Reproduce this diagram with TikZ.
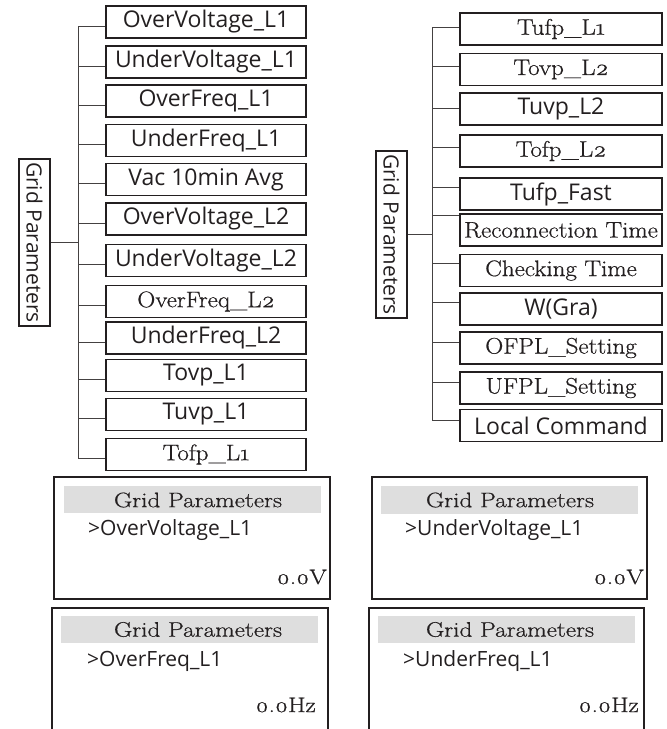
\documentclass[tikz,border=0pt]{standalone}
\usepackage{fontspec}
\newfontfamily\osans{Open Sans}
\newfontfamily\wserif[FakeStretch=1.11,FakeBold=0.7]{Latin Modern Roman}
\newfontfamily\tserif[FakeStretch=1.2,FakeBold=0.6]{Latin Modern Roman}
\usetikzlibrary{calc}
\definecolor{ink}{HTML}{231F20}
\definecolor{barg}{HTML}{DEDEDE}
\tikzset{
  itembox/.style={draw=ink, line width=1.6pt, minimum width=200pt, minimum height=32pt, inner sep=0pt, text=ink},
  ritembox/.style={itembox, minimum width=202pt},
  sanst/.style={font=\osans\fontsize{23}{25}\selectfont},
  serift/.style={font=\wserif\fontsize{22.5}{24}\selectfont},
  conn/.style={draw=ink!85, line width=0.9pt},
  lblbox/.style={draw=ink, line width=1.3pt, rotate=-90, minimum width=167pt, minimum height=31pt, inner xsep=1pt, inner ysep=0pt, text=ink, font=\osans\fontsize{21}{23}\selectfont},
  screen/.style={draw=ink, line width=1.6pt, inner sep=0pt},
  bar/.style={fill=barg, inner sep=0pt},
  sttl/.style={text=ink, font=\tserif\fontsize{21}{23}\selectfont, inner sep=0pt},
  sitem/.style={text=ink, anchor=west, inner sep=0pt, font=\osans\fontsize{21}{23}\selectfont},
  sval/.style={text=ink, anchor=east, inner sep=0pt, font=\tserif\fontsize{21}{23}\selectfont}
}
\begin{document}
\begin{tikzpicture}[x=1pt,y=-1pt]
\useasboundingbox (0,0) rectangle (667,729);
% ---------- left tree ----------
\node[itembox, sanst]  (l1)  at (206,22)    {OverVoltage\_L1};
\node[itembox, sanst]  (l2)  at (206,62)    {UnderVoltage\_L1};
\node[itembox, sanst]  (l3)  at (206,101)   {OverFreq\_L1};
\node[itembox, sanst]  (l4)  at (206,140.5) {UnderFreq\_L1};
\node[itembox, sanst]  (l5)  at (206,179.5) {Vac 10min Avg};
\node[itembox, sanst]  (l6)  at (206,219)   {OverVoltage\_L2};
\node[itembox, sanst]  (l7)  at (206,260.5) {UnderVoltage\_L2};
\node[itembox, serift] (l8)  at (206,301.5) {OverFreq\_L\oldstylenums{2}};
\node[itembox, sanst]  (l9)  at (206,338)   {UnderFreq\_L2};
\node[itembox, sanst]  (l10) at (206,375.5) {Tovp\_L1};
\node[itembox, sanst]  (l11) at (206,414.5) {Tuvp\_L1};
\node[itembox, serift] (l12) at (206,454.5) {Tofp\_L\oldstylenums{1}};
\node[lblbox] (lg) at (34.5,242.5) {Grid Parameters};
\coordinate (ltop) at ($(l1.west)+(-27,4)$);
\coordinate (lbot) at ($(l12.west)+(-27,4)$);
\draw[conn] (ltop) -- (lbot);
\foreach \i in {1,...,12} \draw[conn] ($(l\i.west)+(0,4)$) -- ++(-27,0);
\draw[conn] (lg.north) -- (lg.north -| ltop);
% ---------- right tree ----------
\node[ritembox, serift] (r1)  at (561,29)    {Tufp\_L\oldstylenums{1}};
\node[ritembox, serift] (r2)  at (561,69.5)  {Tovp\_L\oldstylenums{2}};
\node[ritembox, sanst]  (r3)  at (561,109)   {Tuvp\_L2};
\node[ritembox, serift] (r4)  at (561,151)   {Tofp\_L\oldstylenums{2}};
\node[ritembox, sanst]  (r5)  at (561,194)   {Tufp\_Fast};
\node[ritembox, serift] (r6)  at (561,230)   {Reconnection Time};
\node[ritembox, serift] (r7)  at (561,270.5) {Checking Time};
\node[ritembox, sanst]  (r8)  at (561,309)   {W(Gra)};
\node[ritembox, serift] (r9)  at (561,348)   {OFPL\_Setting};
\node[ritembox, serift] (r10) at (561,388)   {UFPL\_Setting};
\node[ritembox, sanst]  (r11) at (561,425.5) {Local Command};
\node[lblbox] (rg) at (391.5,234.5) {Grid Parameters};
\coordinate (rtop) at ($(r1.west)+(-27,-2)$);
\coordinate (rbot) at ($(r11.west)+(-27,-5.5)$);
\draw[conn] (rtop) -- (rbot);
\foreach \i/\o in {1/-2,2/-3.5,3/-1,4/-4,5/-7,6/-15,7/-7.5,8/-7,9/-6,10/-6,11/-5.5}
  \draw[conn] ($(r\i.west)+(0,\o)$) -- ++(-27,0);
\draw[conn] (rg.north) -- (rg.north -| rtop);
% ---------- screens ----------
\node[screen, minimum width=276pt, minimum height=122pt] (s1) at (192,538) {};
\node[bar, minimum width=257pt, minimum height=27pt] (b1) at (192.5,499.5) {};
\node[sttl] (t1) at (198,500) {Grid Parameters};
\node[sitem] (i1) at (88,530) {>OverVoltage\_L1};
\node[sval] (v1) at (327,577) {\oldstylenums{0.0}V};

\node[screen, minimum width=275pt, minimum height=122pt] (s2) at (509.5,538) {};
\node[bar, minimum width=257pt, minimum height=28pt] (b2) at (509.5,500) {};
\node[sttl] (t2) at (510,500) {Grid Parameters};
\node[sitem] (i2) at (405,530) {>UnderVoltage\_L1};
\node[sval] (v2) at (644,577) {\oldstylenums{0.0}V};

\coordinate (s3a) at (52,729); \coordinate (s3b) at (328,608);
\draw[ink, line width=1.6pt] (s3a) |- (s3b) -- (s3b |- s3a);
\node[bar, minimum width=257pt, minimum height=27pt] (b3) at (189.5,629.5) {};
\node[sttl] (t3) at (198,629.5) {Grid Parameters};
\node[sitem] (i3) at (87,661) {>OverFreq\_L1};
\node[sval] (v3) at (316,705) {\oldstylenums{0.0}Hz};

\coordinate (s4a) at (369,729); \coordinate (s4b) at (644,608);
\draw[ink, line width=1.6pt] (s4a) |- (s4b) -- (s4b |- s4a);
\node[bar, minimum width=257pt, minimum height=27pt] (b4) at (506.5,629.5) {};
\node[sttl] (t4) at (510,629.5) {Grid Parameters};
\node[sitem] (i4) at (403,661) {>UnderFreq\_L1};
\node[sval] (v4) at (639,705) {\oldstylenums{0.0}Hz};
\end{tikzpicture}
\end{document}
